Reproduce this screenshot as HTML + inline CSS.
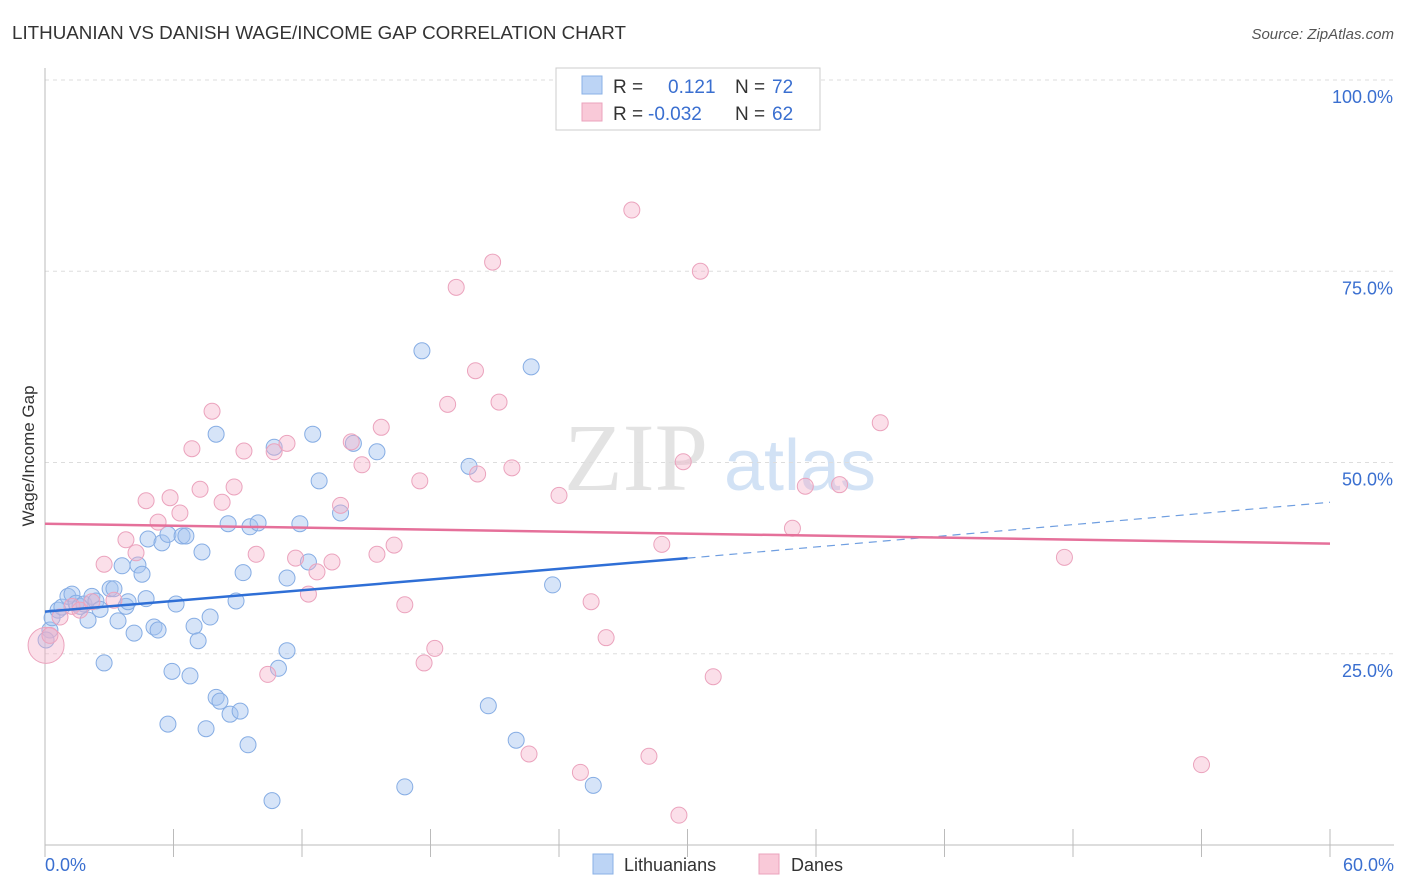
<!DOCTYPE html>
<html><head><meta charset="utf-8">
<style>
body{margin:0;background:#fff;font-family:"Liberation Sans",sans-serif;}
svg{display:block}
</style></head>
<body>
<svg id="chart" width="1406" height="892" xmlns="http://www.w3.org/2000/svg">
<text x="12" y="39" font-size="18.8" fill="#333">LITHUANIAN VS DANISH WAGE/INCOME GAP CORRELATION CHART</text>
<text x="1394" y="39" font-size="15" fill="#555" font-style="italic" text-anchor="end">Source: ZipAtlas.com</text>
<text transform="translate(34,456) rotate(-90)" font-size="17" fill="#333" text-anchor="middle">Wage/Income Gap</text>
<g>
<text x="636" y="490" font-size="96" font-family="Liberation Serif,serif" fill="#ddd" text-anchor="middle" opacity="0.8">ZIP</text>
<text x="800" y="490" font-size="72" fill="#c8dbf3" text-anchor="middle" opacity="0.8">atlas</text>
</g>
<g id="grid"></g>
<g id="axes"></g>
<g id="points"></g>
<g id="trends"></g>
<g>
<rect x="556" y="68" width="264" height="62" fill="#fff" stroke="#ccc"/>
<rect x="582" y="76" width="20" height="18" fill="#bcd4f5" stroke="#8ab0e6"/>
<rect x="582" y="103" width="20" height="18" fill="#f9c9d8" stroke="#eba3bd"/>
<text x="613" y="93" font-size="19" fill="#333">R =</text>
<text x="668" y="93" font-size="19" fill="#3a6fd0">0.121</text>
<text x="735" y="93" font-size="19" fill="#333">N =</text>
<text x="772" y="93" font-size="19" fill="#3a6fd0">72</text>
<text x="613" y="120" font-size="19" fill="#333">R =</text>
<text x="648" y="120" font-size="19" fill="#3a6fd0">-0.032</text>
<text x="735" y="120" font-size="19" fill="#333">N =</text>
<text x="772" y="120" font-size="19" fill="#3a6fd0">62</text>
</g>
<g>
<rect x="593" y="854" width="20" height="20" fill="#bcd4f5" stroke="#8ab0e6"/>
<text x="624" y="871" font-size="18" fill="#333">Lithuanians</text>
<rect x="759" y="854" width="20" height="20" fill="#f9c9d8" stroke="#eba3bd"/>
<text x="791" y="871" font-size="18" fill="#333">Danes</text>
</g>
</svg>
<script>
const xTicks=[0,60];
const yTicks=[25,50,75,100];
const blueX=[0.23,0.33,0.61,0.79,1.07,1.26,1.45,1.63,1.82,2.01,2.19,2.38,2.57,2.76,3.04,3.22,3.41,3.60,3.78,3.88,4.16,4.34,4.53,4.72,4.81,5.09,5.28,5.46,5.74,5.93,5.74,6.12,6.40,6.58,6.77,6.96,7.15,7.33,7.52,7.71,7.99,7.99,8.17,8.55,8.64,8.92,9.11,9.25,9.48,9.57,9.95,10.6,10.7,10.9,11.3,11.3,11.9,12.3,12.5,12.8,13.8,14.4,15.5,16.8,17.6,19.8,20.7,22.0,22.7,23.7,25.6,0.05];
const blueY=[28.1,29.7,30.7,31.1,32.5,32.8,31.6,31.2,31.5,29.4,32.5,31.9,30.8,23.8,33.5,33.5,29.3,36.5,31.2,31.8,27.7,36.6,35.4,32.2,40.0,28.5,28.1,39.5,40.6,22.7,15.8,31.5,40.4,40.4,22.1,28.6,26.7,38.3,15.2,29.8,53.7,19.3,18.8,42.0,17.1,31.9,17.5,35.6,13.1,41.6,42.1,5.8,52.0,23.1,34.9,25.4,42.0,37.0,53.7,47.6,43.4,52.5,51.4,7.6,64.6,49.5,18.2,13.7,62.5,34.0,7.8,26.8];
const pinkX=[0.05,0.23,0.70,1.26,1.63,2.19,2.76,3.22,3.78,4.25,4.72,5.28,5.84,6.30,6.86,7.24,7.80,8.27,8.83,9.29,9.86,10.4,10.7,11.3,11.7,12.3,12.7,13.4,13.8,14.3,14.8,15.5,15.7,16.3,16.8,17.5,17.7,18.2,18.8,19.2,20.1,20.2,20.9,21.2,21.8,22.6,24.0,25.0,25.5,26.2,27.4,28.2,28.8,29.6,29.8,30.6,31.2,34.9,35.5,37.1,39.0,47.6,54.0];
const pinkY=[26.1,27.4,29.8,31.2,30.7,31.8,36.7,32.0,39.9,38.2,45.0,42.2,45.4,43.4,51.8,46.5,56.7,44.8,46.8,51.5,38.0,22.3,51.4,52.5,37.5,32.8,35.7,37.0,44.4,52.7,49.7,38.0,54.6,39.2,31.4,47.6,23.8,25.7,57.6,72.9,62.0,48.5,76.2,57.9,49.3,11.9,45.7,9.5,31.8,27.1,83.0,11.6,39.3,3.9,50.1,75.0,22.0,41.4,46.9,47.1,55.2,37.6,10.5];
const blueTrend=[30.5,37.5,44.8];
const pinkTrend=[42.0,39.4];
const X0=45,X1=1330,Y0=845,YPER=7.65;
const sx=v=>X0+(v/60)*(X1-X0);
const sy=v=>Y0-v*YPER;
const NS="http://www.w3.org/2000/svg";
function mk(tag,attrs,parent){const e=document.createElementNS(NS,tag);for(const k in attrs)e.setAttribute(k,attrs[k]);parent.appendChild(e);return e;}
const grid=document.getElementById('grid'),axes=document.getElementById('axes'),pts=document.getElementById('points'),tr=document.getElementById('trends');
yTicks.forEach(t=>{
 const l=mk('line',{x1:45,x2:1394,y1:sy(t),y2:sy(t),stroke:'#ddd','stroke-dasharray':'4,4'},grid);
 
 
 const tx=mk('text',{x:1393,y:sy(t)+23,'font-size':18,fill:'#3a6fd0','text-anchor':'end'},axes);
 tx.textContent=t.toFixed(1)+'%';
 
 
});
const ya=mk('line',{x1:45,x2:45,y1:68,y2:845,stroke:'#bbb'},axes);


const xa=mk('line',{x1:45,x2:1394,y1:845,y2:845,stroke:'#bbb'},axes);


for(let i=0;i<=10;i++){const t=mk('line',{x1:sx(i*6),x2:sx(i*6),y1:829,y2:857,stroke:'#bbb'},axes);
 
 }
xTicks.forEach((t,i)=>{const tx=mk('text',{x:i==0?45:1394,y:871,'font-size':18,fill:'#3a6fd0','text-anchor':i==0?'start':'end'},axes);
 tx.textContent=t.toFixed(1)+'%';
 
 });
blueX.forEach((v,i)=>{const c=mk('circle',{cx:sx(v),cy:sy(blueY[i]),r:8,fill:'rgba(164,196,240,0.45)',stroke:'#86ade4','stroke-width':1},pts);
 
 });
pinkX.forEach((v,i)=>{const c=mk('circle',{cx:sx(v),cy:sy(pinkY[i]),r:i==0?18:8,fill:'rgba(244,176,200,0.4)',stroke:'#eba3bd','stroke-width':1},pts);
 
 });
const b1=mk('line',{x1:sx(0),y1:sy(blueTrend[0]),x2:sx(30),y2:sy(blueTrend[1]),stroke:'#2f6fd6','stroke-width':2.5},tr);


const b2=mk('line',{x1:sx(30),y1:sy(blueTrend[1]),x2:sx(60),y2:sy(blueTrend[2]),stroke:'#6f9ee0','stroke-width':1.2,'stroke-dasharray':'8,6'},tr);


const p1=mk('line',{x1:sx(0),y1:sy(pinkTrend[0]),x2:sx(60),y2:sy(pinkTrend[1]),stroke:'#e5709a','stroke-width':2.5},tr);


</script>
</body></html>
